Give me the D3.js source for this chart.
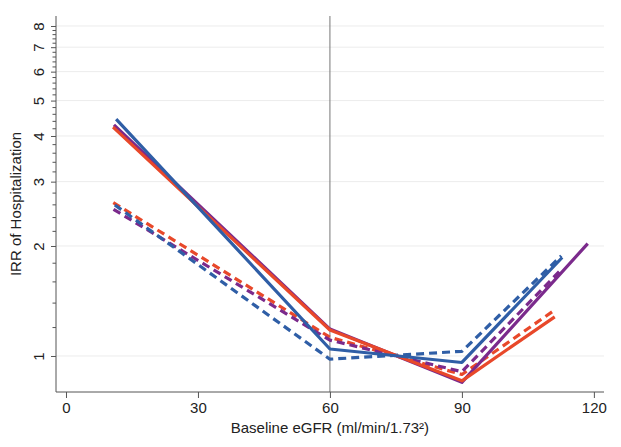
<!DOCTYPE html>
<html><head><meta charset="utf-8">
<script src="https://cdn.jsdelivr.net/npm/d3@7/dist/d3.min.js"></script>
<style>body{margin:0;background:#fff}svg{display:block}text{font-family:"Liberation Sans",Arial,sans-serif;fill:#222}</style>
</head><body><svg id="c" width="621" height="447"></svg>
<script>
const xTicks = [0, 30, 60, 90, 120];
const yTicks = [1, 2, 3, 4, 5, 6, 7, 8];
const yMinor = [1.2,1.4,1.6,1.8,2.2,2.4,2.6,2.8,3.2,3.4,3.6,3.8,4.2,4.4,4.6,4.8,5.2,5.4,5.6,5.8,6.2,6.4,6.6,6.8,7.2,7.4,7.6,7.8];
const refLineX = 60;
// series: x positions and IRR values
const redSolidX = [10.7, 60, 90, 111.1];
const redSolidY = [4.23, 1.178, 0.855, 1.28];
const purpleSolidX = [10.9, 60, 90, 118.6];
const purpleSolidY = [4.29, 1.185, 0.847, 2.03];
const blueSolidX = [11.4, 60, 90, 112.8];
const blueSolidY = [4.45, 1.045, 0.96, 1.86];
const redDashX = [10.75, 60, 90, 111.1];
const redDashY = [2.63, 1.125, 0.89, 1.336];
const purpleDashX = [10.8, 60, 90, 112.5];
const purpleDashY = [2.52, 1.105, 0.906, 1.72];
const blueDashX = [11.1, 60, 90, 112.6];
const blueDashY = [2.59, 0.98, 1.03, 1.88];

const C = {red:"#e8482a", purple:"#7b2a8c", blue:"#2f5ea6"};
const series = [
  {x:redDashX, y:redDashY, c:C.red, dash:true},
  {x:purpleDashX, y:purpleDashY, c:C.purple, dash:true},
  {x:blueDashX, y:blueDashY, c:C.blue, dash:true},
  {x:purpleSolidX, y:purpleSolidY, c:C.purple, dash:false},
  {x:redSolidX, y:redSolidY, c:C.red, dash:false},
  {x:blueSolidX, y:blueSolidY, c:C.blue, dash:false}
];

const L = 56, R = 604, T = 16, B = 392;
const x = d3.scaleLinear().domain([-2.27, 122.3]).range([L, R]);
const y = d3.scaleLog().domain([0.797, 8.52]).range([B, T]);
const svg = d3.select("#c");

// gridlines
svg.append("g").selectAll("line").data(yTicks).join("line")
  .attr("x1", L).attr("x2", R).attr("y1", d=>y(d)).attr("y2", d=>y(d))
  .attr("stroke", "#ececec").attr("stroke-width", 1);

// reference line
svg.append("line").attr("x1", x(refLineX)).attr("x2", x(refLineX)).attr("y1", T).attr("y2", B)
  .attr("stroke", "#777").attr("stroke-width", 1);

// lines
const line = d3.line().x(d=>x(d[0])).y(d=>y(d[1]));
series.forEach(s => {
  svg.append("path").datum(s.x.map((v,i)=>[v, s.y[i]]))
    .attr("d", line).attr("fill", "none").attr("stroke", s.c)
    .attr("stroke-width", 3.2).attr("stroke-linejoin", "round")
    .attr("stroke-dasharray", s.dash ? "8,5" : null);
});

// y axis
const ya = svg.append("g").attr("transform", `translate(${L},0)`)
  .call(d3.axisLeft(y).tickValues(yTicks).tickFormat(d3.format("d")).tickSize(5).tickPadding(8));
ya.select(".domain").attr("stroke", "#555").attr("d", `M0,${T}V${B}`);
ya.selectAll(".tick line").attr("stroke", "#555");
ya.selectAll(".tick text").attr("font-size", 15).attr("fill", "#222")
  .attr("text-anchor", "middle").attr("dy", 0)
  .attr("transform", "translate(-18,0) rotate(-90)").attr("x", 0).attr("y", 0)
  .attr("dominant-baseline", "central");
svg.append("g").attr("transform", `translate(${L},0)`)
  .call(d3.axisLeft(y).tickValues(yMinor).tickFormat(() => "").tickSize(3.5))
  .call(g => { g.select(".domain").remove(); g.selectAll("line").attr("stroke", "#555"); });

// x axis
const xa = svg.append("g").attr("transform", `translate(0,${B})`)
  .call(d3.axisBottom(x).tickValues(xTicks).tickSize(6).tickPadding(4));
xa.select(".domain").attr("stroke", "#555").attr("d", `M${L},0H${R}`);
xa.selectAll(".tick line").attr("stroke", "#555");
xa.selectAll(".tick text").attr("font-size", 15).attr("fill", "#222");

// titles
svg.append("text").attr("x", x(60)).attr("y", 433).attr("text-anchor", "middle")
  .attr("font-size", 15).text("Baseline eGFR (ml/min/1.73²)");
svg.append("text").attr("transform", `translate(21,${(T+B)/2}) rotate(-90)`)
  .attr("text-anchor", "middle").attr("font-size", 15).text("IRR of Hospitalization");
</script></body></html>
